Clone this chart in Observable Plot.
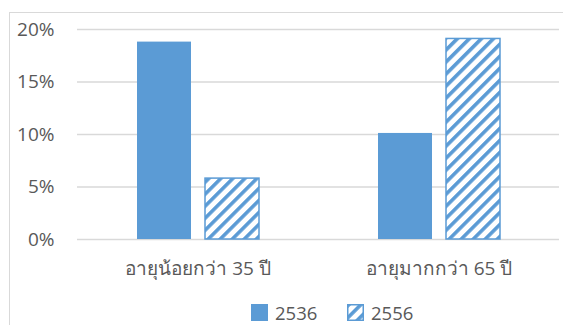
<!DOCTYPE html>
<html>
<head>
<meta charset="utf-8">
<script src="https://cdn.jsdelivr.net/npm/d3@7"></script>
<script src="https://cdn.jsdelivr.net/npm/@observablehq/plot@0.6"></script>
<style>
  html, body { margin: 0; padding: 0; background: #fff; }
  #wrap { position: relative; width: 563px; height: 325px; overflow: hidden; font-family: "Open Sans", "Noto Sans", sans-serif; }
  #frameTop { position: absolute; left: 9px; top: 12px; width: 554px; height: 0; border-top: 1.5px solid #d9d9d9; }
  #frameLeft { position: absolute; left: 9px; top: 12px; width: 0; height: 313px; border-left: 1.5px solid #d9d9d9; }
  #chart { position: absolute; left: 0; top: 0; }
  .item { position: absolute; top: 302px; display: flex; align-items: center; font-size: 18.5px; color: #595959; line-height: 21px; }
  .item svg { margin-right: 7px; display: block; }
</style>
</head>
<body>
<div id="wrap">
  <div id="frameTop"></div>
  <div id="frameLeft"></div>
  <div id="chart"></div>
</div>
<script>
const categories = ["อายุน้อยกว่า 35 ปี", "อายุมากกว่า 65 ปี"];
const seriesNames = ["2536", "2556"];
const values2536 = [0.188, 0.101];
const values2556 = [0.058, 0.191];
const yTicks = [0, 0.05, 0.10, 0.15, 0.20];

const blue = "#5b9bd5";
const data = [];
categories.forEach((c, i) => {
  data.push({category: c, series: seriesNames[0], value: values2536[i]});
  data.push({category: c, series: seriesNames[1], value: values2556[i]});
});

function hatchDefs(id) {
  return `<defs><pattern id="${id}" patternUnits="userSpaceOnUse" width="8.5" height="8.5" patternTransform="rotate(45)">
    <rect x="0" y="0" width="8.5" height="8.5" fill="#fff"/>
    <rect x="0" y="0" width="3.6" height="8.5" fill="${blue}"/>
  </pattern></defs>`;
}

const chart = Plot.plot({
  width: 563,
  height: 290,
  marginLeft: 77,
  marginRight: 4,
  marginTop: 29,
  marginBottom: 51,
  style: {fontFamily: "'Open Sans', 'Noto Sans', sans-serif", fontSize: "19px", color: "#595959", background: "transparent"},
  fx: {domain: categories, padding: 0, label: null, axis: "bottom", tickSize: 0, tickPadding: 22},
  x: {domain: seriesNames, paddingInner: 0.206, paddingOuter: 0.875, axis: null},
  y: {domain: [0, 0.20], ticks: yTicks, tickFormat: d => Math.round(d * 100) + "%", label: null, tickSize: 0, tickPadding: 23},
  marks: [
    Plot.ruleY(yTicks, {stroke: "#d9d9d9", strokeWidth: 1.5, strokeOpacity: 1, facetAnchor: null}),
    Plot.barY(data, {
      fx: "category",
      x: "series",
      y: "value",
      fill: d => d.series === seriesNames[0] ? blue : "url(#hatch)",
      stroke: d => d.series === seriesNames[0] ? "none" : blue,
      strokeWidth: 1.5,
      inset: 0
    })
  ]
});

const defsHolder = document.createElementNS("http://www.w3.org/2000/svg", "g");
defsHolder.innerHTML = hatchDefs("hatch");
chart.insertBefore(defsHolder.firstChild, chart.firstChild);
document.getElementById("chart").appendChild(chart);

// legend
const wrap = document.getElementById("wrap");
const legendLeft = [251, 347];
seriesNames.forEach((s, i) => {
  const item = document.createElement("div");
  item.className = "item";
  item.style.left = legendLeft[i] + "px";
  const sw = i === 0
    ? `<svg width="17" height="17"><rect x="0" y="0" width="17" height="17" fill="${blue}"/></svg>`
    : `<svg width="17" height="17">${hatchDefs("hatchL")}<rect x="0.75" y="0.75" width="15.5" height="15.5" fill="url(#hatchL)" stroke="${blue}" stroke-width="1.5"/></svg>`;
  item.innerHTML = sw + `<span>${s}</span>`;
  wrap.appendChild(item);
});
</script>
</body>
</html>
